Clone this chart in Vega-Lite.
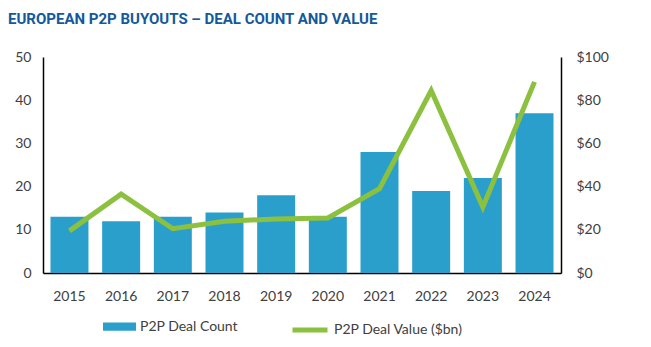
{
  "$schema": "https://vega.github.io/schema/vega-lite/v6.json",
  "autosize": {"type": "none"},
  "width": 518,
  "height": 216,
  "padding": {"left": 43, "top": 57, "right": 90, "bottom": 74},
  "background": "white",
  "title": {
    "text": "EUROPEAN P2P BUYOUTS – DEAL COUNT AND VALUE",
    "anchor": "start",
    "frame": "group",
    "dx": -35,
    "offset": 23,
    "font": "Roboto",
    "fontSize": 15,
    "fontWeight": "bold",
    "color": "#13599B"
  },
  "data": {
    "values": [
      {"year": "2015", "count": 13, "value": 19.5},
      {"year": "2016", "count": 12, "value": 36.5},
      {"year": "2017", "count": 13, "value": 20.5},
      {"year": "2018", "count": 14, "value": 24},
      {"year": "2019", "count": 18, "value": 25},
      {"year": "2020", "count": 13, "value": 25.5},
      {"year": "2021", "count": 28, "value": 39},
      {"year": "2022", "count": 19, "value": 84.5},
      {"year": "2023", "count": 22, "value": 30.5},
      {"year": "2024", "count": 37, "value": 88.5}
    ]
  },
  "config": {
    "view": {"stroke": null},
    "font": "Lato",
    "axis": {
      "labelFont": "Lato",
      "labelFontSize": 14,
      "labelColor": "#404040",
      "domainColor": "#000000",
      "domainWidth": 1.5,
      "ticks": false,
      "grid": false,
      "title": null
    },
    "legend": {
      "labelFont": "Lato",
      "labelFontSize": 14,
      "labelColor": "#404040",
      "padding": 0
    }
  },
  "layer": [
    {
      "mark": {"type": "bar", "color": "#2A9FCC"},
      "encoding": {
        "x": {
          "field": "year",
          "type": "ordinal",
          "scale": {"paddingInner": 0.265, "paddingOuter": 0.145},
          "axis": {"labelAngle": 0, "labelPadding": 16}
        },
        "y": {
          "field": "count",
          "type": "quantitative",
          "scale": {"domain": [0, 50]},
          "axis": {"values": [0, 10, 20, 30, 40, 50], "labelPadding": 12}
        },
        "color": {
          "datum": "P2P Deal Count",
          "scale": {"range": ["#2A9FCC"]},
          "legend": {
            "orient": "none",
            "legendX": 60,
            "legendY": 253,
            "title": null,
            "symbolType": "M-1,-0.25H1V0.25H-1Z",
            "symbolSize": 1089,
            "symbolStrokeWidth": 0
          }
        }
      }
    },
    {
      "mark": {"type": "line", "color": "#8CC03F", "strokeWidth": 5},
      "encoding": {
        "x": {"field": "year", "type": "ordinal"},
        "y": {
          "field": "value",
          "type": "quantitative",
          "scale": {"domain": [0, 100]},
          "axis": {
            "orient": "right",
            "values": [0, 20, 40, 60, 80, 100],
            "labelExpr": "'$' + datum.value",
            "labelPadding": 15
          }
        },
        "color": {
          "datum": "P2P Deal Value ($bn)",
          "scale": {"range": ["#8CC03F"]},
          "legend": {
            "orient": "none",
            "legendX": 247,
            "legendY": 253,
            "title": null,
            "symbolType": "stroke",
            "symbolSize": 1225,
            "symbolStrokeWidth": 5
          }
        }
      }
    }
  ],
  "resolve": {"scale": {"y": "independent", "color": "independent"}}
}
